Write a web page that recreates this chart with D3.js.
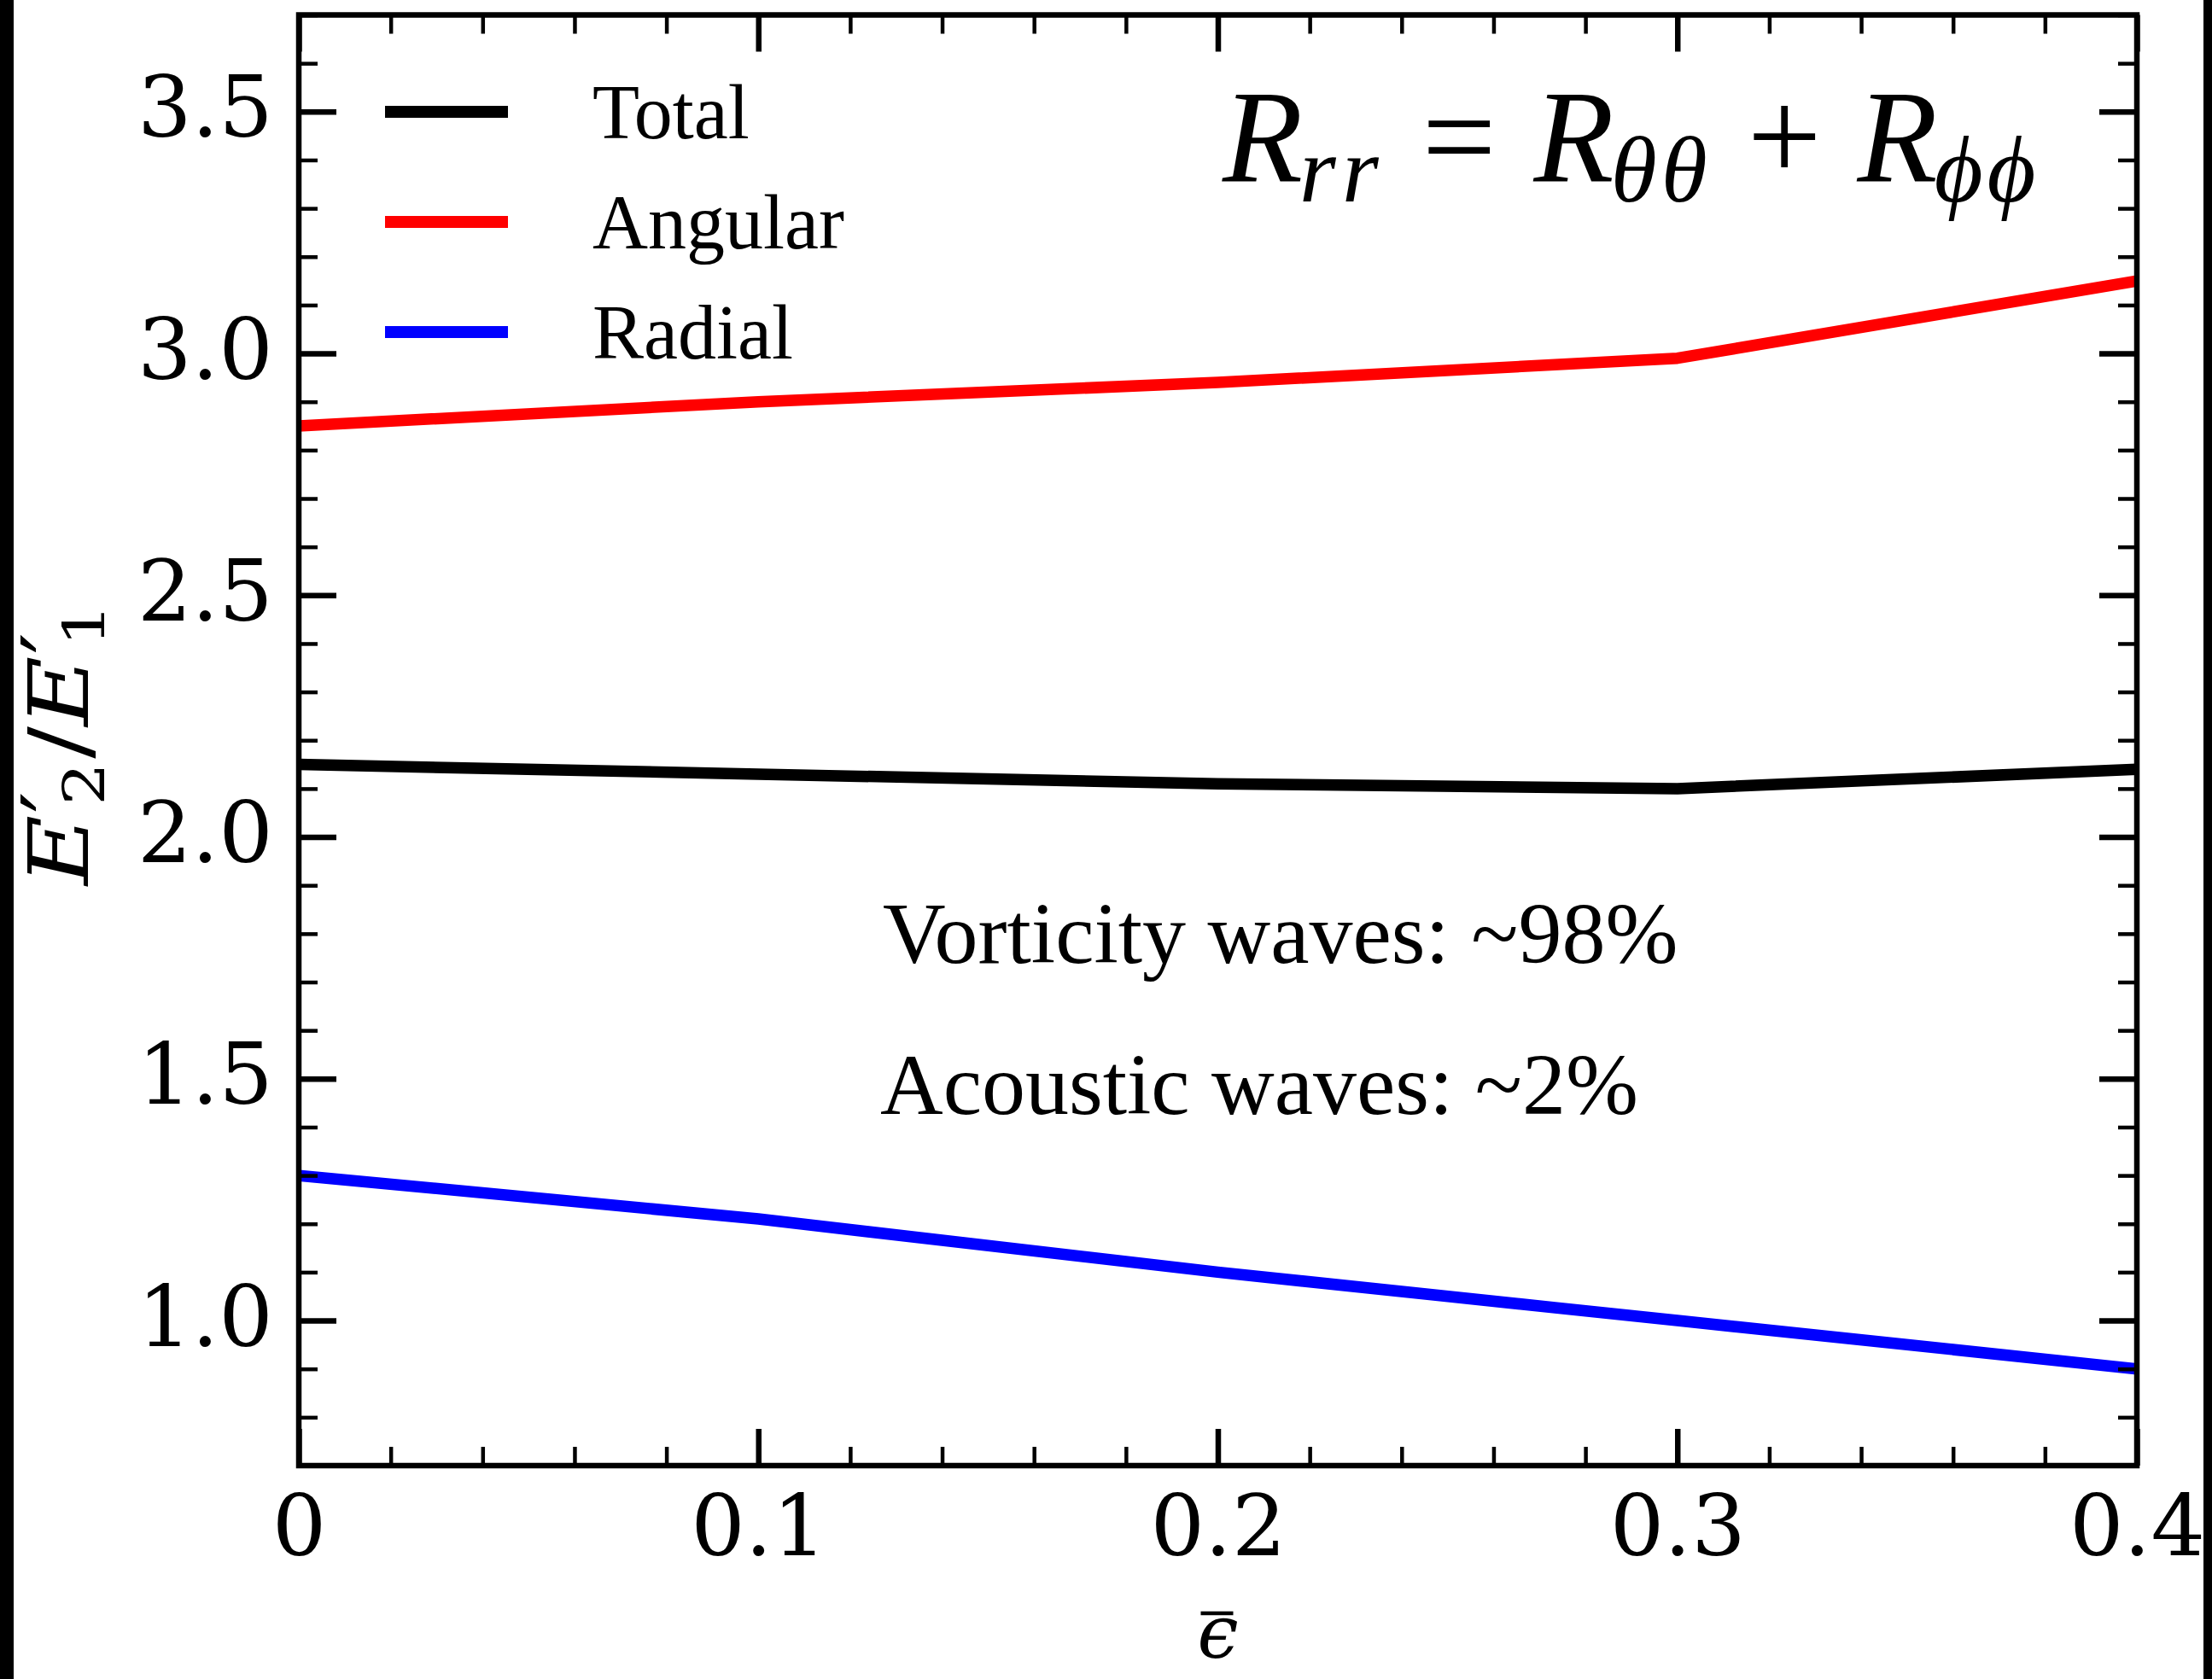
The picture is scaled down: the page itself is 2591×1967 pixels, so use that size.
<!DOCTYPE html>
<html>
<head>
<meta charset="utf-8">
<script src="https://cdn.jsdelivr.net/npm/d3@7"></script>
<style>
  body { margin: 0; background: #fff; }
  svg { display: block; }
</style>
</head>
<body>
<svg id="chart"></svg>
<script>
// values
const epsValues = [0, 0.1, 0.2, 0.3, 0.4];
const totalRatio = [2.15, 2.13, 2.11, 2.10, 2.14];
const angularRatio = [2.85, 2.90, 2.94, 2.99, 3.15];
const radialRatio = [1.30, 1.21, 1.10, 1.00, 0.90];
const seriesNames = ['Total', 'Angular', 'Radial'];
const seriesColors = ['#000000', '#ff0000', '#0000ff'];
const xTicks = [0, 0.1, 0.2, 0.3, 0.4];
const yTicks = [1.0, 1.5, 2.0, 2.5, 3.0, 3.5];
const notes = ['Vorticity waves: ~98%', 'Acoustic waves: ~2%'];

const config = {
    width: 2591,
    height: 1967,
    margin: { top: 17.5, right: 88, bottom: 250, left: 350 }
};

const innerW = config.width - config.margin.left - config.margin.right;
const innerH = config.height - config.margin.top - config.margin.bottom;

const svg = d3.select('#chart')
    .attr('width', config.width)
    .attr('height', config.height);

svg.append('rect')
    .attr('width', config.width)
    .attr('height', config.height)
    .attr('fill', '#fff');

// dark bands on both edges of the original image
svg.append('rect').attr('x', 0).attr('y', 0).attr('width', 16).attr('height', config.height).attr('fill', '#000');
svg.append('rect').attr('x', 2581).attr('y', 0).attr('width', 10).attr('height', config.height).attr('fill', '#000');

const g = svg.append('g')
    .attr('transform', `translate(${config.margin.left},${config.margin.top})`);

const x = d3.scaleLinear().domain([0, 0.4]).range([0, innerW]);
const y = d3.scaleLinear().domain([0.7, 3.7]).range([innerH, 0]);

g.append('clipPath').attr('id', 'clip')
    .append('rect').attr('width', innerW).attr('height', innerH);

// lines
const series = [totalRatio, angularRatio, radialRatio];
const line = d3.line()
    .x((d, i) => x(epsValues[i]))
    .y(d => y(d));

g.append('g').attr('clip-path', 'url(#clip)')
    .selectAll('path')
    .data(series)
    .join('path')
    .attr('d', line)
    .attr('fill', 'none')
    .attr('stroke', (d, i) => seriesColors[i])
    .attr('stroke-width', 13.5)
    .attr('stroke-linejoin', 'round');

// ticks (all pointing inward, on every side)
const xMinor = d3.range(0, 21).map(i => +(i * 0.02).toFixed(2)).filter(v => Math.round(v * 100) % 10 !== 0);
const yMinor = d3.range(7, 38).map(i => +(i * 0.1).toFixed(1)).filter(v => Math.round(v * 10) % 5 !== 0);

const fmtX = d => d === 0 ? '0' : d3.format('.1f')(d);
const fmtY = d3.format('.1f');

function tickGroup(axis, transform, width) {
    const a = g.append('g').attr('transform', transform).call(axis);
    a.select('.domain').remove();
    a.selectAll('line').attr('stroke', '#000').attr('stroke-width', width);
    return a;
}

const xAxis = tickGroup(d3.axisBottom(x).tickValues(xTicks).tickSize(-43).tickPadding(34).tickFormat(fmtX),
    `translate(0,${innerH})`, 6.5);
tickGroup(d3.axisBottom(x).tickValues(xMinor).tickSize(-22).tickFormat(''), `translate(0,${innerH})`, 4.5);
tickGroup(d3.axisTop(x).tickValues(xTicks).tickSize(-43).tickFormat(''), 'translate(0,0)', 6.5);
tickGroup(d3.axisTop(x).tickValues(xMinor).tickSize(-22).tickFormat(''), 'translate(0,0)', 4.5);

const yAxis = tickGroup(d3.axisLeft(y).tickValues(yTicks).tickSize(-44).tickPadding(30).tickFormat(fmtY),
    'translate(0,0)', 6.5);
tickGroup(d3.axisLeft(y).tickValues(yMinor).tickSize(-22).tickFormat(''), 'translate(0,0)', 4.5);
tickGroup(d3.axisRight(y).tickValues(yTicks).tickSize(-44).tickFormat(''), `translate(${innerW},0)`, 6.5);
tickGroup(d3.axisRight(y).tickValues(yMinor).tickSize(-22).tickFormat(''), `translate(${innerW},0)`, 4.5);

xAxis.selectAll('text')
    .attr('font-family', 'DejaVu Serif')
    .attr('font-size', 100)
    .attr('fill', '#000');
yAxis.selectAll('text')
    .attr('font-family', 'DejaVu Serif')
    .attr('font-size', 100)
    .attr('dy', '0.29em')
    .attr('fill', '#000');

// frame
g.append('rect')
    .attr('width', innerW)
    .attr('height', innerH)
    .attr('fill', 'none')
    .attr('stroke', '#000')
    .attr('stroke-width', 6.5);

// legend
const legend = g.append('g').attr('transform', 'translate(101,113.5)');
const item = legend.selectAll('g')
    .data(seriesNames)
    .join('g')
    .attr('transform', (d, i) => `translate(0,${i * 129})`);
item.append('line')
    .attr('x1', 0).attr('x2', 144)
    .attr('stroke', (d, i) => seriesColors[i])
    .attr('stroke-width', 14);
item.append('text')
    .attr('x', 243)
    .attr('y', 31)
    .attr('font-family', 'Liberation Serif')
    .attr('font-size', 90)
    .text(d => d);

// formula
const formula = svg.append('text')
    .attr('x', 1432)
    .attr('y', 212)
    .attr('font-family', 'Liberation Serif')
    .attr('font-size', 154);
formula.append('tspan').attr('font-style', 'italic').text('R');
formula.append('tspan').attr('font-style', 'italic').attr('font-size', 110).attr('dy', 24).attr('dx', -4).attr('letter-spacing', 7).text('rr');
formula.append('tspan').attr('dy', -24).attr('dx', 44).text('=');
formula.append('tspan').attr('font-style', 'italic').attr('dx', 44).text('R');
formula.append('tspan').attr('font-style', 'italic').attr('font-size', 110).attr('dy', 24).attr('dx', -4).attr('letter-spacing', 5).text('θθ');
formula.append('tspan').attr('dy', -24).attr('dx', 42).text('+');
formula.append('tspan').attr('font-style', 'italic').attr('dx', 42).text('R');
formula.append('tspan').attr('font-style', 'italic').attr('font-size', 110).attr('dy', 24).attr('dx', -4).attr('letter-spacing', 5).text('ϕϕ');

// notes
svg.selectAll('.note')
    .data(notes)
    .join('text')
    .attr('class', 'note')
    .attr('x', (d, i) => i === 0 ? 1034 : 1031)
    .attr('y', (d, i) => 1128 + i * 177)
    .attr('font-family', 'Liberation Serif')
    .attr('font-size', 102)
    .text(d => d);

// x label (kept just inside the bottom edge)
const xLabelX = config.margin.left + x(0.2);
svg.append('text')
    .attr('x', xLabelX)
    .attr('y', 1942)
    .attr('text-anchor', 'middle')
    .attr('font-family', 'DejaVu Serif')
    .attr('font-style', 'italic')
    .attr('font-size', 86)
    .text('ϵ');
svg.append('line')
    .attr('x1', xLabelX - 20).attr('x2', xLabelX + 18)
    .attr('y1', 1890).attr('y2', 1890)
    .attr('stroke', '#000').attr('stroke-width', 4.5);

// y label
const yLabel = svg.append('text')
    .attr('transform', 'translate(103,1037) rotate(-90)')
    .attr('font-family', 'DejaVu Serif')
    .attr('font-size', 97)
    .attr('textLength', 330)
    .attr('lengthAdjust', 'spacingAndGlyphs');
yLabel.append('tspan').attr('font-style', 'italic').text('E');
yLabel.append('tspan').attr('dy', -8).attr('dx', 2).text('′');
yLabel.append('tspan').attr('font-size', 68).attr('dy', 27).attr('dx', -14).text('2');
yLabel.append('tspan').attr('dy', -19).attr('dx', 4).text('/');
yLabel.append('tspan').attr('font-style', 'italic').text('E');
yLabel.append('tspan').attr('dy', -8).attr('dx', 2).text('′');
yLabel.append('tspan').attr('font-size', 68).attr('dy', 27).attr('dx', -14).text('1');
</script>
</body>
</html>
